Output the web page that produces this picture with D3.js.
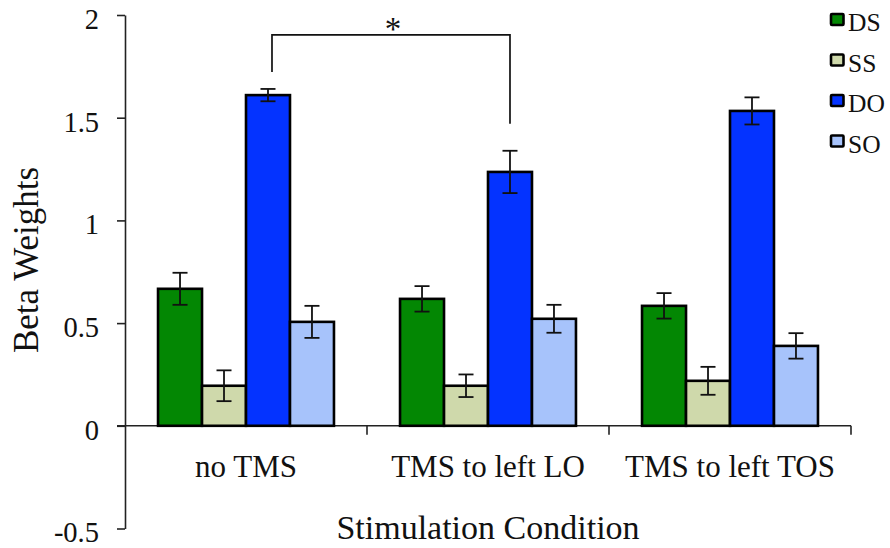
<!DOCTYPE html>
<html>
<head>
<meta charset="utf-8">
<script src="https://cdn.jsdelivr.net/npm/d3@7"></script>
<style>
  body { margin: 0; background: #fff; }
  svg text { font-family: "Liberation Serif", "Times New Roman", serif; fill: #111; }
</style>
</head>
<body>
<svg id="chart" width="890" height="548"></svg>
<script>
// Data
const conditions = ["no TMS", "TMS to left LO", "TMS to left TOS"];
const series = ["DS", "SS", "DO", "SO"];
const colors = ["#038703", "#cfd9ab", "#0433ff", "#a7c3fb"];
const yTicks = [-0.5, 0, 0.5, 1, 1.5, 2];

// one array per series, one value per condition
const meanDS = [0.667, 0.618, 0.584];
const meanSS = [0.195, 0.195, 0.219];
const meanDO = [1.61, 1.236, 1.533];
const meanSO = [0.506, 0.521, 0.389];

const errDS = [0.078, 0.062, 0.062];
const errSS = [0.075, 0.055, 0.068];
const errDO = [0.03, 0.103, 0.066];
const errSO = [0.078, 0.068, 0.062];

// significance bracket between DO of "no TMS" and DO of "TMS to left LO"
const bracket = { from: 0, to: 1, series: "DO", top: 1.903, leftEnd: 1.723, rightEnd: 1.47, label: "*" };

const means = [meanDS, meanSS, meanDO, meanSO];
const errs = [errDS, errSS, errDO, errSO];

const rows = [];
conditions.forEach((c, i) => {
    series.forEach((s, j) => {
        rows.push({ condition: c, series: s, value: means[j][i], err: errs[j][i], color: colors[j] });
    });
});

const svg = d3.select("#chart");
const left = 125, right = 851;

const y = d3.scaleLinear().domain([-0.5, 2]).range([528.5, 15]);

const x0 = d3.scaleBand()
    .domain(conditions)
    .range([left, right])
    .paddingInner(0.273)
    .paddingOuter(0.1365);

const x1 = d3.scaleBand()
    .domain(series)
    .range([0, x0.bandwidth()]);

// y axis
const yAxis = svg.append("g")
    .attr("transform", `translate(${left},0)`)
    .call(d3.axisLeft(y).tickValues(yTicks).tickSize(8).tickSizeOuter(0).tickFormat(d => String(d)));
yAxis.select(".domain").attr("stroke", "#222").attr("stroke-width", 1.6);
yAxis.selectAll(".tick line").attr("stroke", "#222").attr("stroke-width", 1.6);
yAxis.selectAll(".tick text")
    .attr("x", -26)
    .attr("dy", "0.47em")
    .style("font-size", "28.5px")
    .style("font-family", "'Liberation Serif', 'Times New Roman', serif")
    .attr("fill", "#111");

// zero line + category separator ticks
svg.append("line")
    .attr("x1", left - 8).attr("x2", right)
    .attr("y1", y(0)).attr("y2", y(0))
    .attr("stroke", "#222").attr("stroke-width", 1.6);

svg.selectAll(".sep")
    .data(conditions)
    .join("line")
    .attr("class", "sep")
    .attr("x1", d => x0(d) + x0.bandwidth() + x0.step() * x0.paddingInner() / 2)
    .attr("x2", d => x0(d) + x0.bandwidth() + x0.step() * x0.paddingInner() / 2)
    .attr("y1", y(0))
    .attr("y2", y(0) + 9)
    .attr("stroke", "#222").attr("stroke-width", 1.6);

// bars
const groups = svg.selectAll(".group")
    .data(conditions)
    .join("g")
    .attr("class", "group")
    .attr("transform", d => `translate(${x0(d)},0)`);

groups.selectAll("rect")
    .data(c => rows.filter(r => r.condition === c))
    .join("rect")
    .attr("x", d => x1(d.series))
    .attr("y", d => y(d.value))
    .attr("width", x1.bandwidth())
    .attr("height", d => y(0) - y(d.value))
    .attr("fill", d => d.color)
    .attr("stroke", "#000")
    .attr("stroke-width", 2.6);

// error bars
const capW = 7.5;
const eb = groups.selectAll(".err")
    .data(c => rows.filter(r => r.condition === c))
    .join("g")
    .attr("class", "err")
    .attr("transform", d => `translate(${x1(d.series) + x1.bandwidth() / 2},0)`)
    .attr("stroke", "#111")
    .attr("stroke-width", 1.8);
eb.append("line").attr("y1", d => y(d.value + d.err)).attr("y2", d => y(d.value - d.err));
eb.append("line").attr("x1", -capW).attr("x2", capW).attr("y1", d => y(d.value + d.err)).attr("y2", d => y(d.value + d.err));
eb.append("line").attr("x1", -capW).attr("x2", capW).attr("y1", d => y(d.value - d.err)).attr("y2", d => y(d.value - d.err));

// category labels
svg.selectAll(".cat")
    .data(conditions)
    .join("text")
    .attr("class", "cat")
    .attr("x", d => x0(d) + x0.bandwidth() / 2)
    .attr("y", y(0) + 51)
    .attr("text-anchor", "middle")
    .style("font-size", "31px")
    .text(d => d);

// axis titles
svg.append("text")
    .attr("x", (left + right) / 2)
    .attr("y", 539)
    .attr("text-anchor", "middle")
    .style("font-size", "34px")
    .text("Stimulation Condition");

svg.append("text")
    .attr("transform", "translate(38,260) rotate(-90)")
    .attr("text-anchor", "middle")
    .style("font-size", "35px")
    .text("Beta Weights");

// significance bracket
const bx1 = x0(conditions[bracket.from]) + x1(bracket.series) + x1.bandwidth() / 2 + 4;
const bx2 = x0(conditions[bracket.to]) + x1(bracket.series) + x1.bandwidth() / 2;
svg.append("path")
    .attr("d", `M${bx1},${y(bracket.leftEnd)} V${y(bracket.top)} H${bx2} V${y(bracket.rightEnd)}`)
    .attr("fill", "none")
    .attr("stroke", "#111")
    .attr("stroke-width", 1.7);
svg.append("text")
    .attr("x", (bx1 + bx2) / 2 + 2)
    .attr("y", y(bracket.top) + 5)
    .attr("text-anchor", "middle")
    .style("font-size", "33px")
    .text(bracket.label);

// legend
const legend = svg.selectAll(".legend")
    .data(series)
    .join("g")
    .attr("class", "legend")
    .attr("transform", (d, i) => `translate(831,${19.5 + i * 40.5})`);
legend.append("rect")
    .attr("x", 0).attr("y", -5.5)
    .attr("width", 12.5).attr("height", 11)
    .attr("fill", (d, i) => colors[i])
    .attr("stroke", "#000")
    .attr("stroke-width", 2.6)
    .attr("rx", 1);
legend.append("text")
    .attr("x", 17)
    .attr("y", 11.5)
    .style("font-size", "25.5px")
    .text(d => d);
</script>
</body>
</html>
